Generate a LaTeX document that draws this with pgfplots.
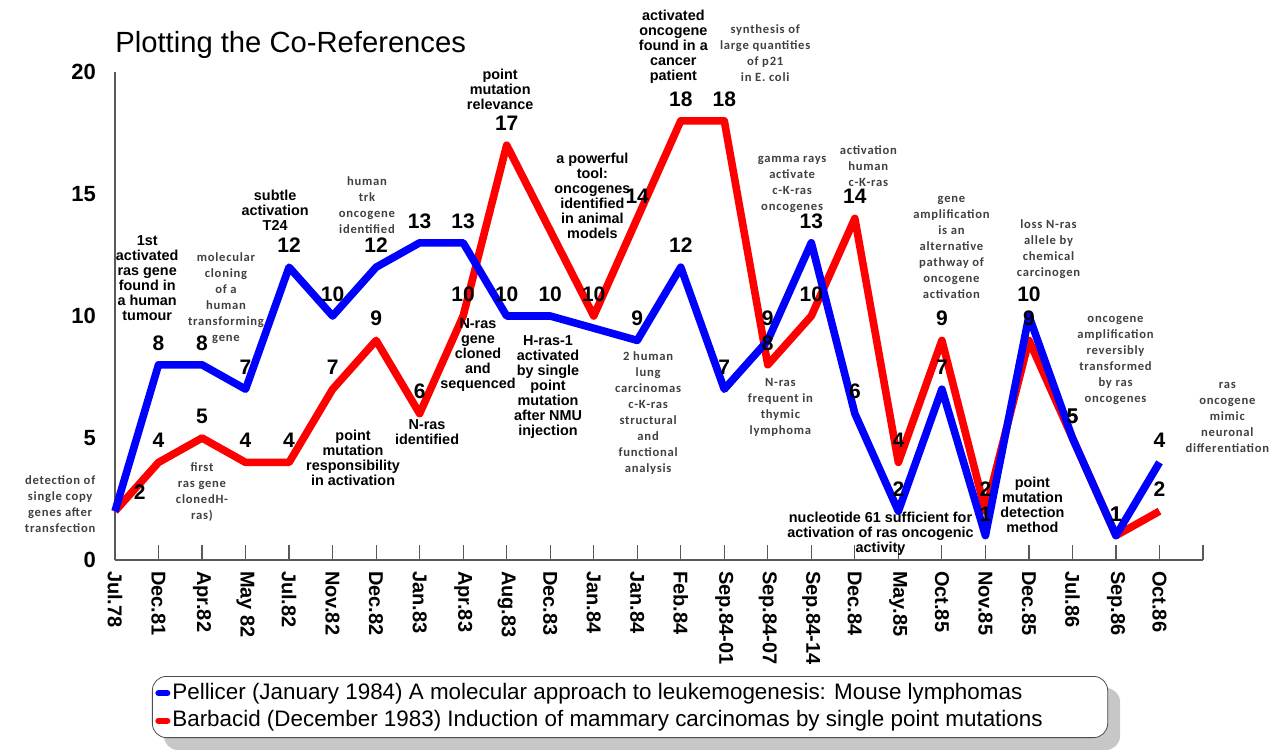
\documentclass[border=0pt]{standalone}
\usepackage{pgfplots}
\pgfplotsset{compat=1.18}
\usepackage{fontspec}
\setmainfont{Liberation Sans}
\newfontfamily\lightfont[LetterSpace=6]{Carlito}
\pgfdeclarelayer{background}
\pgfsetlayers{background,main}
\begin{document}
\begin{tikzpicture}[
  B/.style={font=\bfseries\fontsize{7.2}{7.5}\selectfont, align=center, inner sep=0pt},
  L/.style={font=\lightfont\bfseries\fontsize{6.3}{8}\selectfont, align=center, text=black!75, inner sep=0pt}]
\begin{axis}[
  scale only axis, width=544pt, height=244pt,
  xmin=0, xmax=25, ymin=0, ymax=20,
  axis lines=left, axis line style={-, draw=black!65, line width=0.8pt},
  clip=false,
  xtick={0,...,25},
  xticklabels={Jul.78,Dec.81,Apr.82,May 82,Jul.82,Nov.82,Dec.82,Jan.83,Apr.83,Aug.83,Dec.83,Jan.84,Jan.84,Feb.84,Sep.84-01,Sep.84-07,Sep.84-14,Dec.84,May.85,Oct.85,Nov.85,Dec.85,Jul.86,Sep.86,Oct.86,{}},
  ytick={0,5,10,15,20},
  tick align=inside, major tick length=7.5pt,
  xtick style={draw=black!65, line width=0.6pt},
  ytick style={draw=none},
  /pgf/number format/assume math mode=true,
  yticklabel style={font=\bfseries\fontsize{11}{13}\selectfont, xshift=-6pt},
  x tick label style={rotate=-90, anchor=west, font=\bfseries\fontsize{10}{11}\selectfont, xshift=2pt},
  point meta=explicit symbolic,
  nodes near coords,
  every node near coord/.append style={font=\bfseries\fontsize{10.5}{12}\selectfont, text=black, yshift=2pt},
  legend style={name=leg, at={(0.034,-0.2377)}, anchor=north west, draw=black!70, rounded corners=7pt, fill=white,
    font=\fontsize{11.2}{13}\selectfont, inner sep=1.5pt, row sep=0pt,
    nodes={inner sep=1pt, text height=8.8pt, text depth=3pt}},
  legend cell align=left, reverse legend,
  legend image code/.code={\draw[#1, line width=3pt, line cap=round] (0pt,0pt) -- (4.5pt,0pt);},
]
\addplot[draw=red, line width=3.8pt, line join=round] coordinates {
(0,2)[] (1,4)[4] (2,5)[5] (3,4)[4] (4,4)[4] (5,7)[7] (6,9)[9] (7,6)[6] (8,10)[10] (9,17)[17]
(11,10)[10] (12,14)[14] (13,18)[18] (14,18)[18] (15,8)[8] (16,10)[10] (17,14)[14] (18,4)[4]
(19,9)[9] (20,2)[2] (21,9)[9] (22,5)[5] (23,1)[1] (24,2)[2]};
\addlegendentry{Barbacid (December 1983) Induction of mammary carcinomas by single point mutations\rule{30pt}{0pt}}
\addplot[draw=blue, line width=3.8pt, line join=round] coordinates {
(0,2)[] (1,8)[8] (2,8)[8] (3,7)[7] (4,12)[12] (5,10)[10] (6,12)[12] (7,13)[13] (8,13)[13] (9,10)[10]
(10,10)[10] (12,9)[9] (13,12)[12] (14,7)[7] (15,9)[9] (16,13)[13] (17,6)[6] (18,2)[2] (19,7)[7]
(20,1)[1] (21,10)[10] (22,5)[5] (23,1)[1] (24,4)[4]};
\addlegendentry{Pellicer (January 1984) A molecular approach to leukemogenesis: Mouse lymphomas}

\node[font=\bfseries\fontsize{10.5}{12}\selectfont] at (axis cs:0.57,2.79) {2};

\node[L] at (axis cs:-1.26,2.30) {detection of\\single copy\\genes after\\transfection};
\node[B] at (axis cs:0.74,11.56) {1st\\activated\\ras gene\\found in\\a human\\tumour};
\node[L] at (axis cs:2.55,10.74) {molecular\\cloning\\of a\\human\\transforming\\gene};
\node[L] at (axis cs:2.00,2.79) {first\\ras gene\\clonedH-\\ras)};
\node[B] at (axis cs:3.68,14.34) {subtle\\activation\\T24};
\node[L] at (axis cs:5.79,14.55) {human\\trk\\oncogene\\identified};
\node[B] at (axis cs:5.47,4.18) {point\\mutation\\responsibility\\in activation};
\node[B] at (axis cs:7.17,5.25) {N-ras\\identified};
\node[B] at (axis cs:8.85,19.30) {point\\mutation\\relevance};
\node[B] at (axis cs:8.34,8.40) {N-ras\\gene\\cloned\\and\\sequenced};
\node[B] at (axis cs:9.95,7.09) {H-ras-1\\activated\\by single\\point\\mutation\\after NMU\\injection};
\node[B] at (axis cs:10.97,14.92) {a powerful\\tool:\\oncogenes\\identified\\in animal\\models};
\node[L] at (axis cs:12.25,6.02) {2 human\\lung\\carcinomas\\c-K-ras\\structural\\and\\functional\\analysis};
\node[B] at (axis cs:12.83,21.02) {activated\\oncogene\\found in a\\cancer\\patient};
\node[L] at (axis cs:14.94,20.78) {synthesis of\\large quantities\\of p21\\in E. coli};
\node[L] at (axis cs:15.56,15.41) {gamma rays\\activate\\c-K-ras\\oncogenes};
\node[L] at (axis cs:15.29,6.27) {N-ras\\frequent in\\thymic\\lymphoma};
\node[L] at (axis cs:17.31,16.15) {activation\\human\\c-K-ras};
\node[B] at (axis cs:17.59,1.07) {nucleotide 61 sufficient for\\activation of ras oncogenic\\activity};
\node[L] at (axis cs:19.22,12.79) {gene\\amplification\\is an\\alternative\\pathway of\\oncogene\\activation};
\node[L] at (axis cs:21.45,12.75) {loss N-ras\\allele by\\chemical\\carcinogen};
\node[B] at (axis cs:21.08,2.25) {point\\mutation\\detection\\method};
\node[L] at (axis cs:22.99,8.16) {oncogene\\amplification\\reversibly\\transformed\\by ras\\oncogenes};
\node[L] at (axis cs:25.56,5.86) {ras\\oncogene\\mimic\\neuronal\\differentiation};
\end{axis}
\begin{pgfonlayer}{background}
\fill[black!22, rounded corners=7pt] ([shift={(6pt,-6pt)}]leg.south west) rectangle ([shift={(6pt,-6pt)}]leg.north east);
\end{pgfonlayer}
\node[anchor=base west, inner sep=0pt, font=\fontsize{14.6}{17}\selectfont] at (0pt,253.5pt) {Plotting the Co-References};
\pgfresetboundingbox
\useasboundingbox (-57.5pt,-94.5pt) rectangle (584pt,280pt);
\end{tikzpicture}
\end{document}
